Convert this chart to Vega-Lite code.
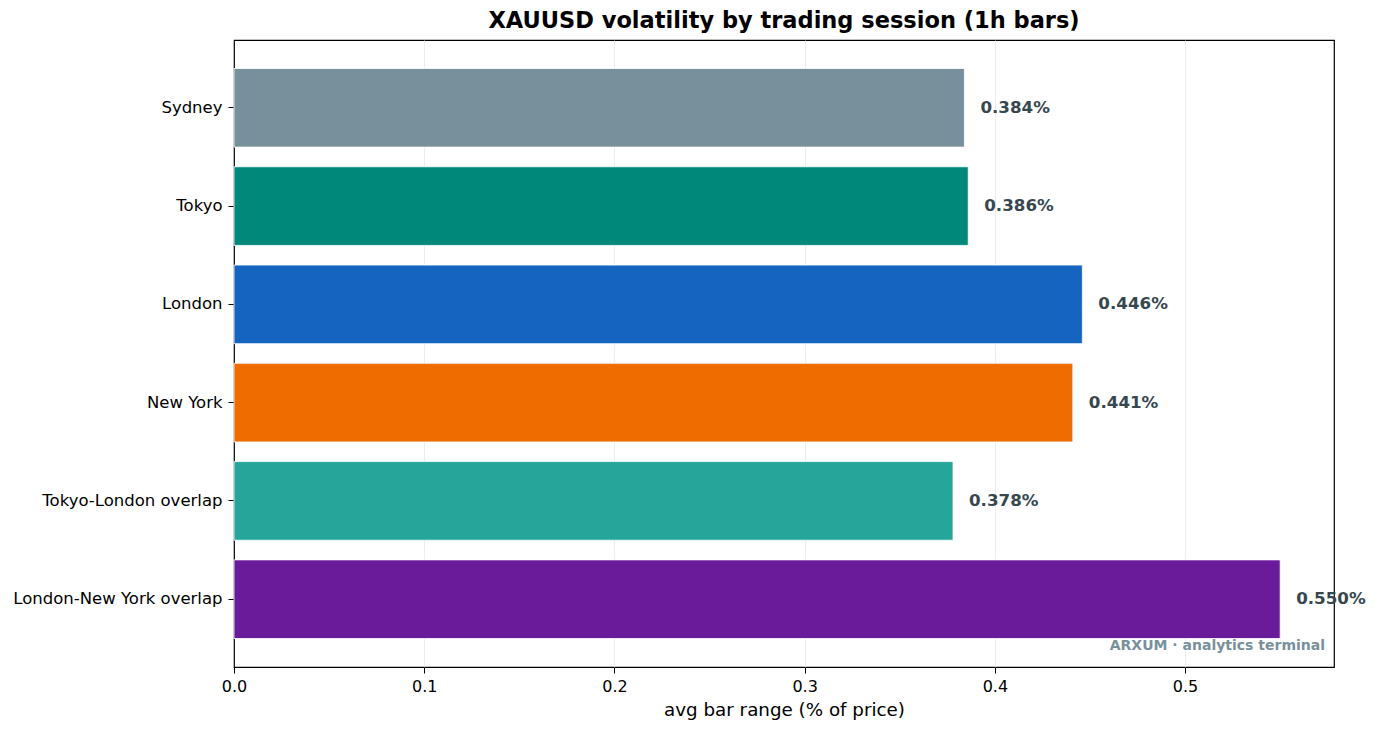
{
  "$schema": "https://vega.github.io/schema/vega-lite/v6.json",
  "description": "XAUUSD volatility by trading session.",
  "autosize": "none",
  "width": 1100,
  "height": 627,
  "padding": {"left": 234, "top": 40, "right": 44, "bottom": 66},
  "background": "white",
  "title": {
    "text": "XAUUSD volatility by trading session (1h bars)",
    "font": "DejaVu Sans",
    "fontSize": 22.5,
    "fontWeight": "bold",
    "color": "black",
    "anchor": "middle",
    "offset": 8
  },
  "data": {
    "values": [
      {"session": "Sydney", "range": 0.384, "label": "0.384%"},
      {"session": "Tokyo", "range": 0.386, "label": "0.386%"},
      {"session": "London", "range": 0.446, "label": "0.446%"},
      {"session": "New York", "range": 0.441, "label": "0.441%"},
      {"session": "Tokyo-London overlap", "range": 0.378, "label": "0.378%"},
      {"session": "London-New York overlap", "range": 0.55, "label": "0.550%", "note": "ARXUM · analytics terminal"}
    ]
  },
  "encoding": {
    "y": {
      "field": "session",
      "type": "nominal",
      "sort": null,
      "title": null,
      "scale": {"paddingInner": 0.2, "paddingOuter": 0.29},
      "axis": {
        "domain": false,
        "ticks": true,
        "tickSize": 6,
        "tickColor": "black",
        "labelPadding": 6,
        "labelFont": "DejaVu Sans",
        "labelFontSize": 16.5,
        "labelColor": "black",
        "labelLimit": 400
      }
    },
    "x": {
      "field": "range",
      "type": "quantitative",
      "title": "avg bar range (% of price)",
      "scale": {"domain": [0, 0.5783], "nice": false},
      "axis": {
        "values": [0, 0.1, 0.2, 0.3, 0.4, 0.5],
        "format": ".1f",
        "labelFlush": false,
        "grid": true,
        "gridColor": "#e8e8e8",
        "gridWidth": 0.8,
        "gridOpacity": {"condition": {"test": "datum.value === 0", "value": 0}, "value": 1},
        "domain": false,
        "tickSize": 6,
        "tickColor": "black",
        "labelPadding": 5,
        "labelFont": "DejaVu Sans",
        "labelFontSize": 16,
        "labelColor": "black",
        "titleFont": "DejaVu Sans",
        "titleFontSize": 18.3,
        "titleFontWeight": "normal",
        "titleColor": "black",
        "titlePadding": 7
      }
    }
  },
  "layer": [
    {
      "mark": {"type": "bar", "stroke": "white", "strokeWidth": 0.8},
      "encoding": {
        "color": {
          "field": "session",
          "type": "nominal",
          "legend": null,
          "scale": {
            "domain": ["Sydney", "Tokyo", "London", "New York", "Tokyo-London overlap", "London-New York overlap"],
            "range": ["#78909C", "#00897B", "#1565C0", "#EF6C00", "#26A69A", "#6A1B9A"]
          }
        }
      }
    },
    {
      "mark": {
        "type": "text",
        "align": "left",
        "baseline": "middle",
        "dx": 16,
        "font": "DejaVu Sans",
        "fontSize": 16.7,
        "fontWeight": "bold",
        "color": "#37474F"
      },
      "encoding": {"text": {"field": "label"}}
    },
    {
      "transform": [{"filter": "isValid(datum.note)"}],
      "mark": {
        "type": "text",
        "align": "right",
        "baseline": "alphabetic",
        "dx": -9,
        "dy": 51,
        "font": "DejaVu Sans",
        "fontSize": 14,
        "fontWeight": "bold",
        "color": "#78909C"
      },
      "encoding": {
        "x": {"datum": 0.5783},
        "text": {"field": "note"}
      }
    }
  ],
  "config": {
    "view": {"stroke": "black", "strokeWidth": 1.2}
  }
}
